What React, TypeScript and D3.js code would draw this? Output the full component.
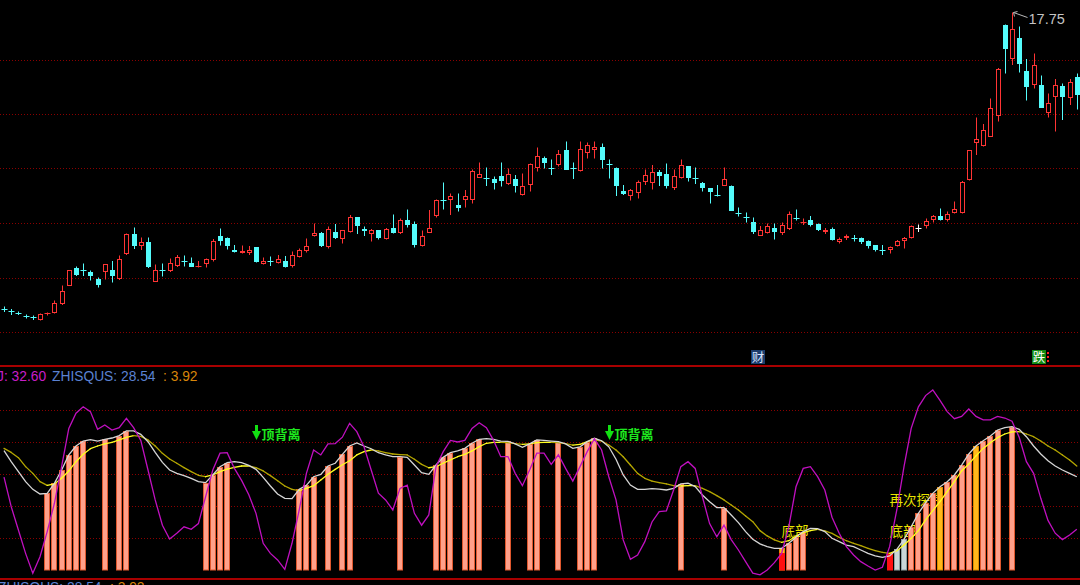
import React from 'react';
import * as d3 from 'd3';

// ---------- price data (daily candles) ----------
const OPEN = [
  11.83, 11.79, 11.75, 11.69, 11.67, 11.60, 11.71, 11.74, 11.92, 12.29,
  12.63, 12.59, 12.57, 12.41, 12.56, 12.59, 12.41, 12.91, 13.31, 13.08,
  13.15, 12.37, 12.59, 12.58, 12.69, 12.79, 12.73, 12.65, 12.72, 12.80,
  13.27, 13.23, 13.00, 12.95, 12.95, 13.05, 12.72, 12.79, 12.75, 12.78,
  12.69, 12.87, 12.97, 13.28, 13.35, 13.05, 13.37, 13.21, 13.37, 13.65,
  13.43, 13.31, 13.39, 13.22, 13.45, 13.33, 13.61, 13.52, 13.08, 13.35,
  13.68, 14.01, 13.99, 13.89, 14.01, 14.01, 14.45, 14.45, 14.43, 14.48,
  14.31, 14.43, 14.10, 14.30, 14.63, 14.85, 14.64, 14.70, 15.00, 14.63,
  14.59, 14.95, 14.99, 15.05, 14.72, 14.63, 14.18, 14.08, 14.13, 14.37,
  14.33, 14.55, 14.53, 14.23, 14.45, 14.67, 14.45, 14.35, 14.23, 14.10,
  14.29, 14.28, 13.73, 13.65, 13.55, 13.29, 13.35, 13.45, 13.35, 13.43,
  13.64, 13.55, 13.61, 13.52, 13.36, 13.43, 13.15, 13.23, 13.23, 13.23,
  13.18, 13.09, 13.00, 12.99, 13.07, 13.17, 13.23, 13.44, 13.47, 13.59,
  13.67, 13.59, 13.73, 13.73, 14.40, 15.13, 15.08, 15.27, 15.69, 17.50,
  16.83, 17.25, 16.59, 16.30, 16.30, 15.73, 16.05, 16.28, 16.03, 16.47,
];
const CLOSE = [
  11.80, 11.77, 11.71, 11.66, 11.64, 11.71, 11.74, 11.95, 12.19, 12.59,
  12.50, 12.58, 12.47, 12.30, 12.71, 12.48, 12.83, 13.31, 13.07, 13.15,
  12.65, 12.59, 12.58, 12.75, 12.87, 12.78, 12.67, 12.69, 12.82, 13.18,
  13.19, 13.07, 12.96, 12.98, 13.00, 12.77, 12.79, 12.78, 12.81, 12.67,
  12.90, 12.99, 13.07, 13.35, 13.07, 13.41, 13.23, 13.39, 13.65, 13.47,
  13.38, 13.39, 13.25, 13.43, 13.35, 13.61, 13.51, 13.10, 13.29, 13.45,
  13.99, 14.00, 14.08, 13.83, 14.07, 14.57, 14.53, 14.44, 14.33, 14.38,
  14.53, 14.27, 14.29, 14.72, 14.88, 14.73, 14.63, 14.93, 14.61, 14.62,
  15.03, 15.10, 15.05, 14.80, 14.71, 14.27, 14.12, 14.20, 14.37, 14.49,
  14.55, 14.48, 14.27, 14.47, 14.70, 14.45, 14.44, 14.25, 14.15, 14.09,
  14.41, 13.79, 13.72, 13.64, 13.36, 13.39, 13.48, 13.37, 13.50, 13.72,
  13.63, 13.56, 13.50, 13.40, 13.40, 13.20, 13.22, 13.29, 13.22, 13.15,
  13.08, 13.00, 12.99, 13.06, 13.18, 13.25, 13.48, 13.44, 13.58, 13.67,
  13.60, 13.71, 13.81, 14.37, 14.99, 15.21, 15.41, 15.85, 16.63, 17.01,
  17.42, 16.71, 16.27, 16.70, 15.85, 15.95, 16.30, 16.05, 16.35, 16.11,
];
const HIGH = [
  11.87, 11.82, 11.77, 11.71, 11.69, 11.73, 11.75, 11.99, 12.29, 12.60,
  12.67, 12.73, 12.59, 12.45, 12.72, 12.78, 12.89, 13.33, 13.45, 13.25,
  13.25, 12.71, 12.73, 12.83, 12.90, 12.89, 12.85, 12.78, 12.83, 13.22,
  13.43, 13.25, 13.10, 13.09, 13.08, 13.06, 12.85, 12.87, 12.90, 12.88,
  12.97, 13.03, 13.23, 13.53, 13.36, 13.47, 13.52, 13.40, 13.70, 13.66,
  13.47, 13.42, 13.40, 13.44, 13.71, 13.63, 13.81, 13.57, 13.39, 13.80,
  14.01, 14.35, 14.13, 14.13, 14.20, 14.61, 14.75, 14.65, 14.47, 14.75,
  14.63, 14.50, 14.53, 14.73, 15.05, 14.87, 14.81, 15.00, 15.17, 14.75,
  15.17, 15.15, 15.17, 15.13, 14.81, 14.65, 14.30, 14.22, 14.39, 14.61,
  14.70, 14.60, 14.73, 14.61, 14.81, 14.68, 14.65, 14.36, 14.24, 14.30,
  14.65, 14.29, 13.85, 13.75, 13.65, 13.48, 13.53, 13.53, 13.55, 13.77,
  13.81, 13.63, 13.68, 13.53, 13.44, 13.45, 13.25, 13.31, 13.30, 13.25,
  13.19, 13.10, 13.10, 13.07, 13.20, 13.26, 13.49, 13.51, 13.63, 13.70,
  13.83, 13.77, 13.97, 14.38, 15.00, 15.65, 15.52, 16.03, 16.64, 17.51,
  17.75, 17.47, 16.82, 16.93, 16.49, 16.13, 16.42, 16.33, 16.42, 16.53,
];
const LOW = [
  11.76, 11.70, 11.70, 11.63, 11.60, 11.59, 11.69, 11.73, 11.90, 12.28,
  12.48, 12.48, 12.39, 12.25, 12.41, 12.35, 12.40, 12.90, 13.02, 13.00,
  12.64, 12.36, 12.47, 12.56, 12.66, 12.67, 12.66, 12.65, 12.65, 12.77,
  13.09, 13.01, 12.95, 12.93, 12.90, 12.75, 12.71, 12.68, 12.73, 12.65,
  12.65, 12.85, 12.95, 13.27, 13.06, 13.03, 13.22, 13.13, 13.35, 13.32,
  13.28, 13.17, 13.21, 13.21, 13.33, 13.32, 13.45, 13.05, 13.07, 13.35,
  13.65, 13.81, 13.70, 13.77, 13.85, 13.93, 14.45, 14.28, 14.21, 14.27,
  14.30, 14.15, 14.09, 14.17, 14.57, 14.63, 14.50, 14.67, 14.60, 14.42,
  14.57, 14.83, 14.83, 14.63, 14.43, 14.08, 14.10, 13.99, 14.03, 14.30,
  14.21, 14.28, 14.23, 14.20, 14.43, 14.37, 14.32, 14.17, 13.93, 14.07,
  14.28, 13.78, 13.67, 13.55, 13.32, 13.29, 13.33, 13.21, 13.30, 13.40,
  13.59, 13.50, 13.47, 13.38, 13.32, 13.19, 13.13, 13.20, 13.17, 13.12,
  13.03, 12.97, 12.90, 12.93, 13.07, 13.03, 13.23, 13.36, 13.43, 13.55,
  13.59, 13.57, 13.73, 13.73, 14.39, 14.90, 15.07, 15.26, 15.57, 16.53,
  16.70, 16.55, 15.99, 16.23, 15.84, 15.65, 15.37, 15.60, 15.90, 15.81,
];

// ---------- indicator data ----------
const K_LINE = [
  74.6, 67.7, 61.5, 55.2, 50.4, 47.5, 47.9, 54.2, 62.5, 71.9,
  77.5, 80.6, 81.5, 80.6, 81.7, 82.5, 84.0, 87.0, 86.9, 84.8,
  80.2, 73.5, 67.3, 62.5, 60.4, 59.0, 57.3, 55.2, 54.6, 59.4,
  64.6, 67.1, 67.7, 67.1, 65.4, 62.9, 57.9, 52.5, 47.5, 44.8,
  44.6, 50.4, 52.9, 58.3, 59.8, 65.0, 66.7, 72.3, 77.5, 79.4,
  77.5, 75.8, 73.3, 71.9, 70.8, 70.8, 70.4, 65.6, 60.8, 59.8,
  65.6, 70.4, 73.3, 74.4, 76.0, 79.2, 81.7, 82.1, 81.7, 80.6,
  80.4, 78.8, 76.7, 78.8, 81.3, 81.0, 80.6, 80.2, 78.8, 76.0,
  77.0, 80.2, 82.3, 80.8, 77.0, 69.2, 59.4, 53.1, 50.4, 50.4,
  50.8, 50.6, 50.0, 51.0, 53.8, 54.2, 52.1, 46.9, 42.7, 39.0,
  39.0, 34.4, 29.6, 24.0, 19.2, 16.3, 14.6, 13.5, 13.5, 16.7,
  20.4, 24.0, 26.0, 25.8, 24.0, 19.8, 17.7, 15.6, 14.6, 12.5,
  10.4, 8.8, 7.9, 8.8, 12.9, 19.2, 27.0, 35.4, 42.0, 47.9,
  52.1, 55.2, 59.4, 65.6, 72.5, 77.5, 80.8, 83.8, 87.5, 89.0,
  89.6, 87.9, 83.3, 77.5, 72.5, 68.3, 65.0, 62.5, 60.4, 58.3,
];
const D_LINE = [
  76.0, 73.5, 70.2, 64.6, 60.4, 55.2, 52.9, 53.8, 57.3, 61.9,
  67.7, 72.3, 75.8, 77.5, 78.8, 79.8, 81.3, 82.9, 84.0, 83.5,
  81.3, 77.5, 72.9, 69.4, 66.7, 64.0, 61.5, 59.2, 58.3, 59.4,
  61.5, 63.1, 64.2, 65.0, 65.0, 64.0, 61.9, 59.0, 55.8, 52.5,
  50.4, 49.6, 51.0, 52.7, 56.3, 59.8, 62.9, 65.8, 68.3, 71.9,
  74.0, 75.0, 74.4, 73.3, 72.5, 72.1, 71.9, 69.2, 66.0, 63.9,
  64.6, 66.7, 68.8, 70.8, 72.3, 74.4, 77.1, 79.2, 79.8, 79.8,
  79.6, 79.0, 78.5, 78.8, 79.6, 79.8, 79.8, 79.6, 79.0, 78.1,
  78.5, 80.2, 81.3, 80.6, 78.1, 75.0, 70.8, 65.6, 60.4, 57.3,
  55.6, 54.6, 53.8, 52.7, 52.5, 52.7, 52.7, 51.0, 49.0, 46.5,
  43.8, 40.6, 37.5, 33.8, 30.2, 24.6, 21.3, 18.8, 17.3, 18.3,
  21.3, 23.3, 24.6, 25.4, 24.4, 22.9, 20.4, 18.3, 16.7, 15.2,
  13.5, 12.1, 11.0, 10.4, 12.1, 15.6, 19.8, 24.6, 31.3, 37.1,
  42.7, 49.0, 55.2, 61.9, 66.3, 71.3, 76.0, 79.6, 82.7, 85.0,
  86.3, 86.5, 85.0, 83.3, 80.6, 77.5, 75.0, 71.9, 68.8, 65.0,
];
const J_LINE = [
  58.0, 39.6, 25.0, 10.4, -2.0, 8.3, 24.0, 41.7, 64.6, 88.5,
  98.0, 102.0, 99.0, 88.0, 90.6, 87.5, 89.0, 94.8, 89.0, 81.0,
  62.5, 43.8, 28.0, 19.4, 23.0, 27.0, 25.4, 29.0, 45.8, 62.5,
  73.0, 73.3, 63.5, 56.0, 47.0, 35.4, 16.7, 10.4, 6.3, 0.4,
  16.7, 37.5, 60.4, 75.0, 71.9, 78.8, 79.0, 83.0, 91.7, 86.5,
  77.0, 62.5, 48.0, 43.8, 37.5, 51.0, 53.0, 35.4, 28.0, 34.4,
  64.6, 74.0, 81.0, 80.0, 81.0, 88.5, 92.0, 89.0, 81.0, 70.8,
  70.8, 60.4, 52.7, 62.5, 73.0, 73.0, 66.0, 72.0, 63.5, 55.6,
  64.6, 74.0, 82.0, 75.0, 58.3, 43.8, 18.8, 6.7, 9.4, 17.7,
  30.0, 36.5, 37.0, 50.0, 64.6, 67.7, 63.5, 45.8, 29.0, 20.8,
  28.0, 19.0, 12.5, 5.2, -2.0, -3.0, 0.0, 4.6, 10.4, 27.0,
  52.0, 63.5, 64.6, 58.3, 50.0, 33.0, 23.0, 14.6, 9.4, 5.2,
  2.5, 0.0, 1.7, 14.6, 37.5, 64.6, 88.5, 102.0, 109.0, 112.5,
  106.0, 99.0, 94.6, 96.0, 100.6, 96.0, 93.8, 93.8, 96.0, 95.0,
  93.0, 83.0, 67.7, 60.4, 44.8, 31.0, 23.0, 19.0, 21.9, 25.4,
];

// histogram bars (indices of sessions carrying a bar) and their kinds
const BAR_SALMON = [
  6, 7, 8, 9, 10, 11, 14, 16, 17, 28, 29, 30, 31, 41, 42, 43, 45, 47, 48,
  55, 60, 61, 62, 64, 65, 66, 70, 73, 74, 77, 80, 81, 82, 94, 100, 109, 110, 111,
  126, 127, 128, 129, 131, 132, 133, 134, 136, 137, 138, 140,
];
const BAR_GOLD = [108, 130, 135];
const BAR_GRAY = [124, 125];
const BAR_RED = [108, 123];
const RED_MARK_VALUE = 10.4;

const PRICE_GRID = [16.81, 15.72, 14.63, 13.54, 12.45, 11.36];
const IND_GRID = [20, 40, 60, 80, 100];

const HIGH_LABEL = '17.75';
const LEGEND_TOP = [
  { text: 'J: 32.60', color: '#c81ec8' },
  { text: 'ZHISQUS: 28.54', color: '#5b82d2' },
  { text: ': 3.92', color: '#d8860a' },
];
const TOP_DIVERGENCE = [35, 84];
const TOP_DIVERGENCE_TEXT = '顶背离';
const BOTTOM_MARKS = [108, 123];
const BOTTOM_TEXT = '底部';
const RETEST_MARK = 123;
const RETEST_TEXT = '再次探底';

const W = 1080;
const H = 585;

export default function App() {
  const n = OPEN.length;
  const x = d3.scaleLinear().domain([0, n - 1]).range([4, 4 + 7.2 * (n - 1)]);
  const yP = d3.scaleLinear().domain([11.35, 17.75]).range([332.5, 12.5]);
  const yI = d3.scaleLinear().domain([0, 100]).range([570, 410]);
  const px = (i: number) => Math.round(x(i)) + 0.5;
  const py = (v: number) => Math.round(yP(v)) + 0.5;

  const lineK = d3.line<number>().x((_, i) => x(i)).y((v) => yI(v));
  const lineJ = d3.line<number>().x((_, i) => x(i)).y((v) => yI(v));

  const font = 'Liberation Sans, Arial, sans-serif';
  const cjk = '"Noto Sans CJK SC", sans-serif';

  const bar = (i: number, fill: string, stroke: string, v: number, key: string) => {
    const cx = Math.round(x(i));
    const top = Math.round(yI(v));
    return (
      <rect key={key} x={cx - 2.5} y={top + 0.5} width={5} height={570 - top - 0.5}
        fill={fill} stroke={stroke} strokeWidth={1} />
    );
  };

  const xHigh = px(140);
  const yHigh = yP(17.75);

  return (
    <svg width={W} height={H} style={{ position: 'fixed', left: 0, top: 0, background: '#000', display: 'block' }}>
      <rect x={0} y={0} width={W} height={H} fill="#000" />

      {/* price grid */}
      {PRICE_GRID.map((g) => (
        <line key={'pg' + g} x1={0} x2={W} y1={py(g)} y2={py(g)} stroke="#8a0000" strokeDasharray="1 2" />
      ))}

      {/* candles */}
      {OPEN.map((o, i) => {
        const c = CLOSE[i];
        const h = HIGH[i];
        const l = LOW[i];
        const cx = px(i);
        const up = c > o;
        const down = c < o;
        const color = up ? '#ff3434' : down ? '#54fcfc' : '#ffffff';
        const yT = Math.round(yP(Math.max(o, c)));
        const yB = Math.round(yP(Math.min(o, c)));
        const bh = yB - yT;
        if (bh < 1.5) {
          return (
            <g key={'c' + i}>
              <line x1={cx} x2={cx} y1={yP(h)} y2={yP(l)} stroke={color} />
              <line x1={cx - 3} x2={cx + 3} y1={yT + 0.5} y2={yT + 0.5} stroke={color} />
            </g>
          );
        }
        if (up) {
          return (
            <g key={'c' + i}>
              <line x1={cx} x2={cx} y1={yP(h)} y2={yT} stroke={color} />
              <line x1={cx} x2={cx} y1={yB} y2={yP(l)} stroke={color} />
              <rect x={cx - 2} y={yT + 0.5} width={4} height={bh - 1} fill="#000" stroke={color} />
            </g>
          );
        }
        return (
          <g key={'c' + i}>
            <line x1={cx} x2={cx} y1={yP(h)} y2={yP(l)} stroke={color} />
            <rect x={cx - 2.5} y={yT} width={5} height={bh} fill={color} />
          </g>
        );
      })}

      {/* high label */}
      <line x1={xHigh + 1} y1={yHigh} x2={xHigh + 15} y2={yHigh + 5} stroke="#b8b8b8" />
      <line x1={xHigh + 1} y1={yHigh} x2={xHigh + 5} y2={yHigh - 1} stroke="#b8b8b8" />
      <line x1={xHigh + 1} y1={yHigh} x2={xHigh + 2} y2={yHigh + 4} stroke="#b8b8b8" />
      <text x={xHigh + 16} y={yHigh + 11} fill="#c4c4c4" fontSize={14.5} fontFamily={font}>{HIGH_LABEL}</text>

      {/* event badges */}
      <rect x={751} y={350} width={14} height={14} fill="#1c3c6c" />
      <text x={758} y={362} fill="#d8e4ff" fontSize={12.5} fontFamily={cjk} textAnchor="middle">财</text>
      <rect x={1032} y={350} width={14} height={14} fill="#138a13" />
      <text x={1039} y={362} fill="#ffffff" fontSize={12.5} fontFamily={cjk} textAnchor="middle">跌</text>
      <rect x={1047} y={352} width={2} height={2} fill="#ff2020" />
      <rect x={1047} y={356} width={2} height={2} fill="#ff2020" />
      <rect x={1047} y={360} width={2} height={2} fill="#ff2020" />

      {/* panel separators */}
      <line x1={0} x2={W} y1={366} y2={366} stroke="#a80000" strokeWidth={2} />
      <line x1={0} x2={W} y1={579} y2={579} stroke="#a80000" strokeWidth={2} />

      {/* indicator legend */}
      <text y={381} fontSize={13.8} fontFamily={font}>
        <tspan x={-3} fill={LEGEND_TOP[0].color}>{LEGEND_TOP[0].text}</tspan>
        <tspan x={52} fill={LEGEND_TOP[1].color}>{LEGEND_TOP[1].text}</tspan>
        <tspan x={163} fill={LEGEND_TOP[2].color}>{LEGEND_TOP[2].text}</tspan>
      </text>

      {/* indicator grid */}
      {IND_GRID.map((g) => (
        <line key={'ig' + g} x1={0} x2={W} y1={Math.round(yI(g)) + 0.5} y2={Math.round(yI(g)) + 0.5}
          stroke="#8a0000" strokeDasharray="1 2" />
      ))}

      {/* yellow annotation texts (behind bars) */}
      {BOTTOM_MARKS.map((i) => (
        <text key={'bm' + i} x={x(i)} y={yI(21.3)} fill="#e8e400" fontSize={13.5} fontFamily={cjk}>{BOTTOM_TEXT}</text>
      ))}
      <text x={x(RETEST_MARK)} y={yI(40.6)} fill="#e8e400" fontSize={13.5} fontFamily={cjk}>{RETEST_TEXT}</text>

      {/* bars */}
      {BAR_SALMON.map((i) => bar(i, '#ffa08a', '#e0582e', K_LINE[i], 'bs' + i))}
      {BAR_GOLD.map((i) => bar(i, '#ffb81c', '#e08a00', K_LINE[i], 'bg' + i))}
      {BAR_GRAY.map((i) => bar(i, '#cad6d6', '#8fa0a0', K_LINE[i], 'bgr' + i))}
      {BAR_RED.map((i) => bar(i, '#ff1010', '#ff1010', Math.max(RED_MARK_VALUE, K_LINE[i] < RED_MARK_VALUE ? RED_MARK_VALUE : RED_MARK_VALUE), 'br' + i))}

      {/* D line (bright when rising, olive when falling) */}
      {D_LINE.slice(1).map((v, k) => {
        const i = k + 1;
        const rising = v >= D_LINE[i - 1];
        return (
          <line key={'d' + i} x1={x(i - 1)} y1={yI(D_LINE[i - 1])} x2={x(i)} y2={yI(v)}
            stroke={rising ? '#ffff20' : '#b4a600'} strokeWidth={1.3} strokeLinecap="round" />
        );
      })}
      <path d={lineK(K_LINE) || ''} fill="none" stroke="#d6d6d6" strokeWidth={1.3} />
      <path d={lineJ(J_LINE) || ''} fill="none" stroke="#c010c0" strokeWidth={1.3} />

      {/* top divergence signals */}
      {TOP_DIVERGENCE.map((i) => {
        const cx = Math.round(x(i)) + 0.5;
        return (
          <g key={'td' + i}>
            <rect x={cx - 1.5} y={425} width={3} height={8} fill="#12e012" />
            <path d={`M${cx - 4.5},431 L${cx + 4.5},431 L${cx},440 Z`} fill="#12e012" />
            <text x={cx + 5} y={439} fill="#1ee81e" fontSize={13} fontWeight="bold" fontFamily={cjk}>{TOP_DIVERGENCE_TEXT}</text>
          </g>
        );
      })}

      {/* cut-off legend of next panel */}
      <text y={592} fontSize={13.8} fontFamily={font}>
        <tspan x={-2} fill="#5b82d2">ZHISQUS: 28.54</tspan>
        <tspan x={110} fill="#d8860a">: 3.92</tspan>
      </text>
    </svg>
  );
}
